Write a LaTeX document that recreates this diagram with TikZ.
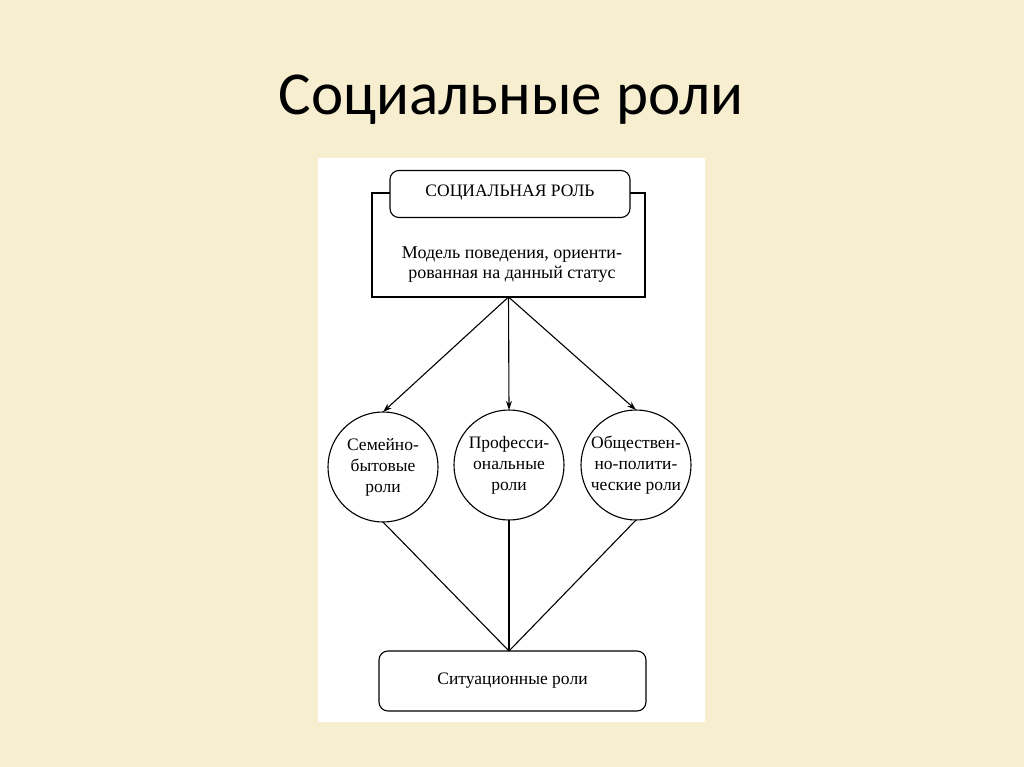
\documentclass[tikz,border=0pt]{standalone}
\usepackage{fontspec}
\setmainfont{Liberation Serif}
\newfontfamily\titlefont{Carlito}
\usetikzlibrary{arrows.meta}

\definecolor{parchment}{RGB}{247,238,208}

\def \globalscale {1.000000}

\tikzset{
  rolebox/.style={draw=black, line width=1.1pt, fill=white, rounded corners=9pt},
  rolecircle/.style={circle, draw=black, line width=1.1pt, fill=white, minimum size=110pt, align=center, font=\fontsize{17.5}{21}\selectfont},
  link/.style={draw=black, line join=round, line width=1.1pt},
}

\begin{document}
\begin{tikzpicture}[y=1pt, x=1pt, yscale=-\globalscale, xscale=\globalscale, inner sep=0pt, outer sep=0pt]
\path[fill=parchment] (0,0) rectangle (1024,767);
\useasboundingbox (0,0) rectangle (1024,767);

\path[fill=white] (318,158) rectangle (705,722);

\node (title) at (511,100) {\titlefont\fontsize{61}{72}\selectfont Социальные роли};



\node[draw=black, line width=1.1pt, fill=white, minimum width=273pt, minimum height=104pt] (model) at (508.5,245) {};

\node[align=center, font=\fontsize{18}{20}\selectfont] (modeltext) at (512,265) {Модель поведения, ориенти-\\рованная на данный статус};

\node[rolebox, minimum width=240pt, minimum height=47pt, text depth=7pt, font=\fontsize{17.5}{20}\selectfont] (socrole) at (510,194) {СОЦИАЛЬНАЯ РОЛЬ};



\node[rolecircle] (family) at (383,467) {Семейно-\\бытовые\\роли};

\node[rolecircle] (prof) at (509,465) {Професси-\\ональные\\роли};

\node[rolecircle] (civic) at (636,465) {Обществен-\\но-полити-\\ческие роли};

\node[rolebox, minimum width=267pt, minimum height=60pt, font=\fontsize{17.5}{20}\selectfont] (situation) at (512.5,681) {Ситуационные роли};



\path[link, -{Stealth[length=9pt, width=6pt]}] (model.south) -- (family.north);

\path[link, -{Stealth[length=9pt, width=6pt]}] (model.south) -- (prof.north);

\path[link, -{Stealth[length=9pt, width=6pt]}] (model.south) -- (civic.north);



\path[link] (family.south) -- (situation.north -| prof.south);

\path[link] (prof.south) -- (situation.north -| prof.south);

\path[link] (civic.south) -- (situation.north -| prof.south);

\end{tikzpicture}
\end{document}
